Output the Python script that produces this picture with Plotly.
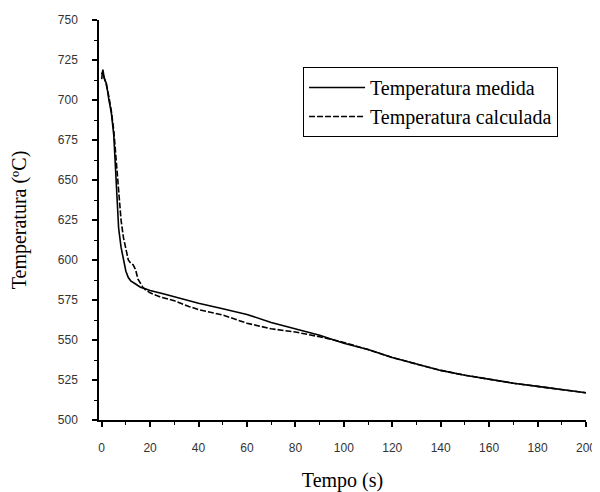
import plotly.graph_objects as go

# Measured temperature (solid line)
tempo_medida = [0, 0.5, 1, 1.5, 2, 3, 4, 5, 5.5, 6, 6.5, 7, 8, 9, 10, 11, 12, 14, 16, 18, 20,
                25, 30, 35, 40, 50, 60, 70, 80, 90, 100, 110, 120, 130, 140, 150, 160, 170, 180, 190, 200]
temp_medida = [713, 719, 714, 712, 710, 700, 692, 678, 664, 645, 630, 620, 608, 600, 593, 589, 587, 585, 583, 582, 581,
               579, 577, 575, 573, 569.5, 566, 561, 557, 553, 548, 544, 539, 535, 531, 528, 525.5, 523, 521, 519, 517]

# Calculated temperature (dashed line)
tempo_calc = [0, 0.5, 1, 2, 3, 4, 5, 6, 7, 8, 9, 10, 11, 12, 13, 14, 15, 16, 17, 18, 20,
              24, 30, 36, 40, 50, 60, 70, 80, 90, 100, 110, 120, 130, 140, 150, 160, 170, 180, 190, 200]
temp_calc = [716, 718, 714, 709, 702, 693, 681, 662, 640, 625, 614, 607, 600, 598, 597, 594, 588, 585.5, 583, 581.5, 579.5,
             577, 574.5, 571, 569, 565.6, 560.5, 557, 555, 552, 548.5, 544, 539, 535, 531, 528, 525.5, 523, 521, 519, 517]

x_ticks = [0, 20, 40, 60, 80, 100, 120, 140, 160, 180, 200]
y_ticks = [500, 525, 550, 575, 600, 625, 650, 675, 700, 725, 750]

fig = go.Figure()
fig.add_trace(go.Scatter(x=tempo_medida, y=temp_medida, mode="lines",
                         name="Temperatura medida",
                         line=dict(color="black", width=1.6)))
fig.add_trace(go.Scatter(x=tempo_calc, y=temp_calc, mode="lines",
                         name="Temperatura calculada",
                         line=dict(color="black", width=1.6, dash="6px,2px")))

axis_common = dict(
    showgrid=False, zeroline=False, showline=True, linecolor="black", linewidth=1.5,
    ticks="outside", ticklen=5, tickwidth=1.5, tickcolor="black",
    tickfont=dict(family="Liberation Sans, Arial", size=12, color="#333"),
    mirror=False, automargin=False,
)

fig.update_xaxes(range=[-1.1, 200], tickvals=x_ticks,
                 minor=dict(dtick=10, ticks="outside", ticklen=3, tickwidth=1.2, tickcolor="black"),
                 title=dict(text="Tempo (s)", font=dict(family="Liberation Serif, Times New Roman", size=20, color="black"),
                            standoff=24),
                 ticklabelstandoff=11,
                 **axis_common)
fig.update_yaxes(range=[500, 750], tickvals=y_ticks,
                 minor=dict(dtick=12.5, ticks="outside", ticklen=3, tickwidth=1.2, tickcolor="black"),
                 title=dict(text="Temperatura (ºC)", font=dict(family="Liberation Serif, Times New Roman", size=20, color="black"),
                            standoff=30),
                 ticklabelstandoff=12,
                 **axis_common)

# The page body adds an 8px offset, so the figure is 8px smaller than the window
fig.update_layout(
    width=592, height=484,
    margin=dict(l=91, r=14, t=12, b=72),
    plot_bgcolor="white", paper_bgcolor="white",
    legend=dict(x=0.419, y=0.8825, xanchor="left", yanchor="top",
                bordercolor="black", borderwidth=1, bgcolor="white",
                font=dict(family="Liberation Serif, Times New Roman", size=20, color="black"),
                itemwidth=56, tracegroupgap=2, entrywidth=275, entrywidthmode="pixels"),
)

fig.write_html("out.html")
